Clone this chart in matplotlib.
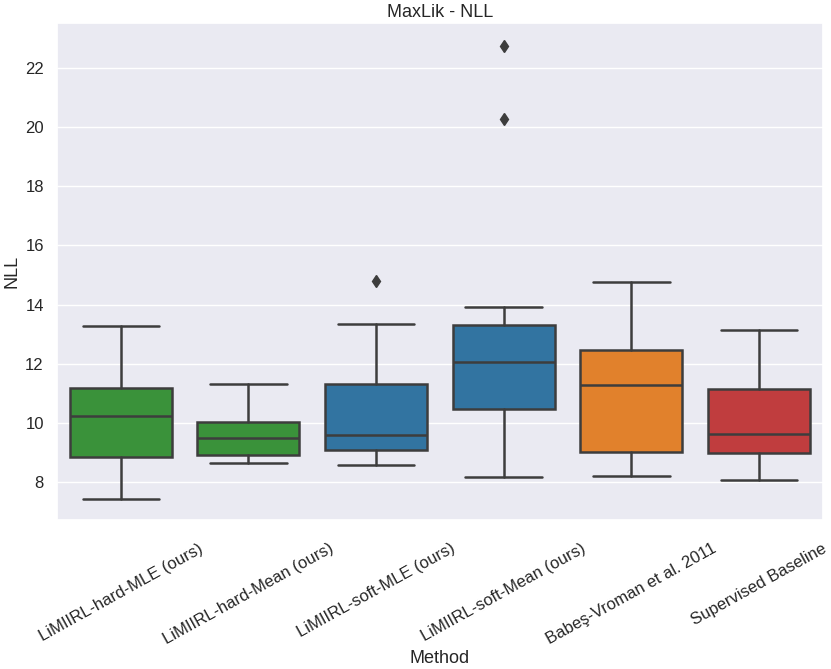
import numpy as np
import matplotlib
matplotlib.use("Agg")
import matplotlib.pyplot as plt
import seaborn as sns

# box statistics
methods = ["LiMIIRL-hard-MLE (ours)", "LiMIIRL-hard-Mean (ours)",
           "LiMIIRL-soft-MLE (ours)", "LiMIIRL-soft-Mean (ours)",
           "Babeş-Vroman et al. 2011", "Supervised Baseline"]
whislo = [7.43, 8.65, 8.57, 8.18, 8.21, 8.07]
q1 = [8.84, 8.93, 9.08, 10.46, 9.02, 8.99]
med = [10.25, 9.50, 9.58, 12.07, 11.28, 9.62]
q3 = [11.17, 10.03, 11.33, 13.32, 12.48, 11.15]
whishi = [13.29, 11.30, 13.33, 13.91, 14.77, 13.13]
fliers = [[], [], [14.81], [22.74, 20.26], [], []]
colors = ["#3a923a", "#3a923a", "#3274a1", "#3274a1", "#e1812c", "#c03d3e"]

sns.set_theme(style="darkgrid")
plt.rcParams['font.family'] = ['Liberation Sans', 'DejaVu Sans']

stats = []
for i in range(len(methods)):
    stats.append(dict(label=methods[i], whislo=whislo[i], q1=q1[i], med=med[i],
                      q3=q3[i], whishi=whishi[i], fliers=fliers[i]))

gray = "#3d3d3d"
lw = 1.8
fig = plt.figure(figsize=(8.31, 6.69), dpi=100)
ax = fig.add_subplot(111)
bp = ax.bxp(stats, positions=np.arange(len(methods)), widths=0.8, patch_artist=True,
            boxprops=dict(edgecolor=gray, linewidth=lw),
            medianprops=dict(color=gray, linewidth=lw),
            whiskerprops=dict(color=gray, linewidth=lw),
            capprops=dict(color=gray, linewidth=lw),
            flierprops=dict(marker="d", markerfacecolor=gray, markeredgecolor=gray,
                            markersize=6.5, linestyle="none"))
for patch, c in zip(bp["boxes"], colors):
    patch.set_facecolor(c)
for cap in bp["caps"]:
    m = cap.get_xdata().mean()
    cap.set_xdata([m - 0.3, m + 0.3])

ax.set_xlim(-0.5, len(methods) - 0.5)
ax.set_ylim(6.72, 23.52)
ax.xaxis.grid(False)
ax.set_yticks([8, 10, 12, 14, 16, 18, 20, 22])
ax.set_xticks(np.arange(len(methods)))
ax.set_xticklabels(methods, rotation=29, ha="center", fontsize=12)
ax.tick_params(axis="x", pad=9)
ax.tick_params(axis="y", labelsize=12)
ax.set_title("MaxLik - NLL", fontsize=13, pad=4)
ax.set_xlabel("Method", fontsize=13, labelpad=2)
ax.set_ylabel("NLL", fontsize=13, labelpad=3)

plt.subplots_adjust(left=0.0686, right=0.990, top=0.966, bottom=0.2227)
fig.savefig("out.png", dpi=100)
